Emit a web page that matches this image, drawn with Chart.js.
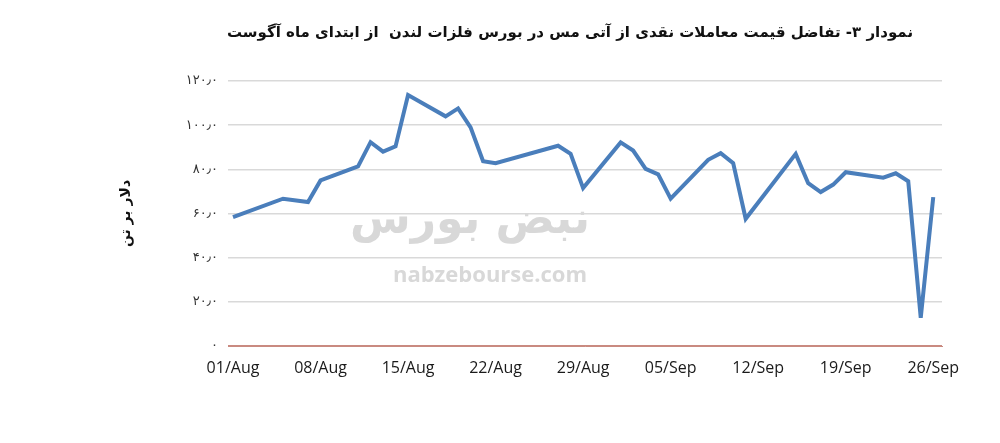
<!DOCTYPE html>
<html>
<head>
<meta charset="utf-8">
<script src="https://cdn.jsdelivr.net/npm/chart.js@4.4.1/dist/chart.umd.min.js"></script>
<style>
html,body{margin:0;padding:0;background:#fff;}
#wrap{width:1000px;height:443px;position:relative;}
</style>
</head>
<body>
<div id="wrap"><canvas id="c" width="1000" height="443"></canvas></div>
<script>
// ---- data ----
const titleText = 'نمودار ۳- تفاضل قیمت معاملات نقدی از آتی مس در بورس فلزات لندن  از ابتدای ماه آگوست';
const yAxisTitle = 'دلار بر تن';
const dayOffsets = [0,4,6,7,10,11,12,13,14,17,18,19,20,21,26,27,28,31,32,33,34,35,38,39,40,41,45,46,47,48,49,52,53,54,55,56];
const spreadValues = [58.4,66.7,65.2,75,81.3,92.3,88,90.4,113.6,104,107.6,99,83.7,82.8,90.7,87,71.5,92.2,88.5,80.2,77.7,66.7,84.3,87.3,82.8,57.6,87,73.7,69.7,73.1,78.7,76.2,78.2,74.6,12.8,67.4];
const xTickDays = [0,7,14,21,28,35,42,49,56];
const xTickLabels = ['01/Aug','08/Aug','15/Aug','22/Aug','29/Aug','05/Sep','12/Sep','19/Sep','26/Sep'];
const yTickValues = [0,20,40,60,80,100,120];
const watermarkLatin = 'nabzebourse.com';
const watermarkPersian = 'نبض بورس';

const faDigits = '۰۱۲۳۴۵۶۷۸۹';
function toFa(s){ return String(s).replace(/[0-9]/g, d => faDigits[+d]); }
function yLabel(v){ return v === 0 ? toFa(0) : toFa(v) + '٫' + toFa(0); }

const points = dayOffsets.map((d,i) => ({x:d, y:spreadValues[i]}));

const titlePlugin = {
  id:'titleDraw',
  afterDraw(chart){
    const ctx = chart.ctx;
    ctx.save();
    ctx.font = 'bold 15px "DejaVu Sans", "Noto Sans", sans-serif';
    ctx.fillStyle = '#111';
    ctx.textAlign = 'center';
    ctx.textBaseline = 'middle';
    ctx.direction = 'rtl';
    ctx.fillText(titleText, 570, 33);
    ctx.restore();
  }
};
const watermarkPlugin = {
  id:'wm',
  beforeDatasetsDraw(chart){
    const ctx = chart.ctx;
    ctx.save();
    ctx.fillStyle = '#d8d8d8';
    ctx.textAlign = 'center';
    ctx.textBaseline = 'middle';
    ctx.font = 'bold 22px "Open Sans", sans-serif';
    ctx.fillText(watermarkLatin, 490, 276);
    ctx.direction = 'rtl';
    ctx.font = 'bold 44px "DejaVu Sans", sans-serif';
    ctx.fillText(watermarkPersian, 470, 222);
    ctx.restore();
  }
};

new Chart(document.getElementById('c'), {
  type:'line',
  data:{
    datasets:[{
      data: points,
      borderColor:'#4a7ebb',
      borderWidth:4,
      pointRadius:0,
      tension:0,
      fill:false,
      borderJoinStyle:'miter'
    }]
  },
  options:{
    responsive:false,
    animation:false,
    devicePixelRatio:1,
    layout:{padding:{left:114,right:58,top:81,bottom:52}},
    plugins:{legend:{display:false},tooltip:{enabled:false},title:{display:false}},
    scales:{
      x:{
        type:'linear',
        min:-0.4, max:56.7,
        afterBuildTicks(s){ s.ticks = xTickDays.map(v => ({value:v})); },
        afterFit(s){ s.height = 45; },
        ticks:{
          callback:(v) => xTickLabels[xTickDays.indexOf(v)],
          font:{family:'"Open Sans", sans-serif', size:16},
          color:'#1a1a1a',
          maxRotation:0, autoSkip:false, padding:13
        },
        grid:{display:false, drawTicks:false},
        border:{display:true, color:'#c98a80', width:1}
      },
      y:{
        min:0, max:120,
        afterBuildTicks(s){ s.ticks = yTickValues.map(v => ({value:v})); },
        afterFit(s){ s.width = 114; },
        ticks:{
          callback:(v) => yLabel(v),
          font:{family:'"DejaVu Sans", sans-serif', size:13},
          color:'#333',
          padding:10
        },
        grid:{
          color:(c) => c.tick && c.tick.value === 0 ? '#c98a80' : '#d9d9d9',
          lineWidth:1.5,
          drawTicks:false
        },
        border:{display:false},
        title:{
          display:true,
          text:yAxisTitle,
          font:{family:'"DejaVu Sans", sans-serif', size:14, weight:'bold'},
          color:'#111',
          padding:4
        }
      }
    }
  },
  plugins:[watermarkPlugin, titlePlugin]
});
</script>
</body>
</html>
